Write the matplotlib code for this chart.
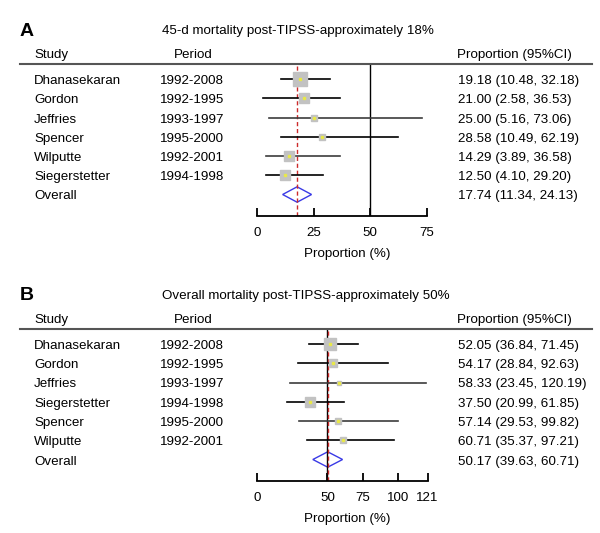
import matplotlib
matplotlib.use('Agg')
import matplotlib.pyplot as plt
from matplotlib.lines import Line2D

plt.rcParams['font.family'] = ['Liberation Sans', 'DejaVu Sans']

# panel A data
title_a = '45-d mortality post-TIPSS-approximately 18%'
studies_a = ['Dhanasekaran', 'Gordon', 'Jeffries', 'Spencer', 'Wilputte', 'Siegerstetter']
periods_a = ['1992-2008', '1992-1995', '1993-1997', '1995-2000', '1992-2001', '1994-1998']
est_a = [19.18, 21.00, 25.00, 28.58, 14.29, 12.50]
lo_a = [10.48, 2.58, 5.16, 10.49, 3.89, 4.10]
hi_a = [32.18, 36.53, 73.06, 62.19, 36.58, 29.20]
weight_a = [12, 9, 5, 5, 9, 9]
overall_a = [17.74, 11.34, 24.13]
ticks_a = [0, 25, 50, 75]

# panel B data
title_b = 'Overall mortality post-TIPSS-approximately 50%'
studies_b = ['Dhanasekaran', 'Gordon', 'Jeffries', 'Siegerstetter', 'Spencer', 'Wilputte']
periods_b = ['1992-2008', '1992-1995', '1993-1997', '1994-1998', '1995-2000', '1992-2001']
est_b = [52.05, 54.17, 58.33, 37.50, 57.14, 60.71]
lo_b = [36.84, 28.84, 23.45, 20.99, 29.53, 35.37]
hi_b = [71.45, 92.63, 120.19, 61.85, 99.82, 97.21]
weight_b = [10, 7, 4, 9, 5, 5]
overall_b = [50.17, 39.63, 60.71]
ticks_b = [0, 50, 75, 100, 121]

W, H = 600, 533
FS = 9.6


def fx(x):
    return x / W


def fy(y):
    return 1 - round(y) / H


def panel(fig, letter, title, studies, periods, est, lo, hi, weight, overall,
          ticks, y0, x_right, line_cols):
    """
    Draws one forest plot; y0 is the pixel row of the panel top (letter line).
    """
    rule_y = y0 + 35
    row0 = y0 + 50
    step = 19.25
    axis_y = y0 + 187
    t = 2  # text sits a little lower than the marks
    fig.text(fx(20), fy(y0 + 2), letter, fontsize=14, fontweight='bold',
             va='center', ha='left')
    fig.text(fx(162), fy(y0 + t), title, fontsize=FS, va='center', ha='left')
    fig.text(fx(34), fy(y0 + 24 + t), 'Study', fontsize=FS, va='center')
    fig.text(fx(174), fy(y0 + 24 + t), 'Period', fontsize=FS, va='center')
    fig.text(fx(457), fy(y0 + 24 + t), 'Proportion (95%CI)', fontsize=FS,
             va='center')
    fig.add_artist(Line2D([fx(20), fx(592)], [fy(rule_y)] * 2,
                          color='#555555', lw=1.5))

    names = studies + ['Overall']
    for i in range(len(names)):
        yy = fy(row0 + step * i + t)
        fig.text(fx(34), yy, names[i], fontsize=FS, va='center')
        if i < len(studies):
            fig.text(fx(160), yy, periods[i], fontsize=FS, va='center')
            s = '%.2f (%.2f, %.2f)' % (est[i], lo[i], hi[i])
        else:
            s = '%.2f (%.2f, %.2f)' % tuple(overall)
        fig.text(fx(458), yy, s, fontsize=FS, va='center')

    left, right = 257, x_right
    ax = fig.add_axes([fx(left), fy(axis_y), (right - left) / W,
                       (axis_y - rule_y) / H])
    ax.set_xlim(ticks[0], ticks[-1])
    ax.set_ylim((axis_y - row0) / step, (rule_y - row0) / step)
    for sp in ['left', 'right', 'top']:
        ax.spines[sp].set_visible(False)
    ax.spines['bottom'].set_linewidth(1.3)
    ax.set_yticks([])
    ax.set_xticks(ticks)
    ax.tick_params(axis='x', direction='in', length=6, width=1.3,
                   labelsize=FS, pad=8)
    ax.patch.set_alpha(0)

    ax.axvline(50, color='black', lw=1)
    ax.axvline(overall[0], color='#cc2a2a', lw=1, ls=(0, (3, 2)))

    for i in range(len(studies)):
        ax.plot([lo[i], hi[i]], [i, i], color=line_cols[i], lw=1.2,
                clip_on=False)
        ax.plot(est[i], i, marker='s', ms=weight[i] * 0.8, color='#c2c2c2',
                clip_on=False)
        ax.plot(est[i], i, marker='s', ms=1.6, color='#e8e84a', clip_on=False)

    n = len(studies)
    h = 0.4
    ax.fill([overall[1], overall[0], overall[2], overall[0]],
            [n, n - h, n, n + h], fill=False, edgecolor='#3a3ae6', lw=1)

    fig.text(fx(347), fy(axis_y + 38), 'Proportion (%)', fontsize=FS,
             ha='center', va='center')
    return ax


def main():
    fig = plt.figure(figsize=(6, 5.33), dpi=100)
    blk, gry = 'black', '#3c3c3c'
    panel(fig, 'A', title_a, studies_a, periods_a, est_a, lo_a, hi_a, weight_a,
          overall_a, ticks_a, 29, 426.5, [blk, blk, gry, blk, gry, blk])
    panel(fig, 'B', title_b, studies_b, periods_b, est_b, lo_b, hi_b, weight_b,
          overall_b, ticks_b, 294, 427.5, [blk, blk, gry, blk, gry, blk])
    fig.savefig('out.png', dpi=100)


if __name__ == '__main__':
    main()
